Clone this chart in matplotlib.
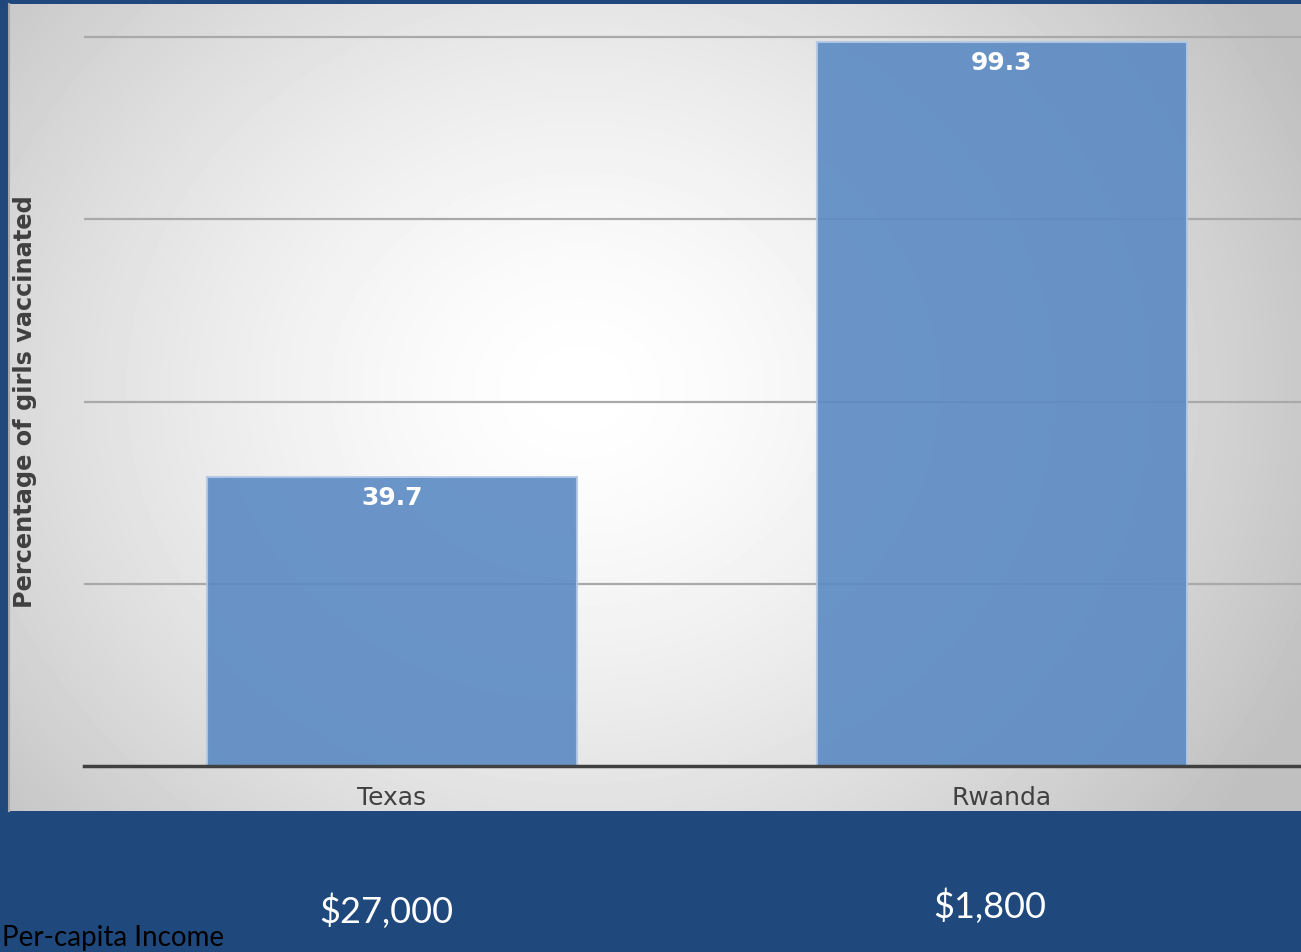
import numpy as np
import matplotlib.pyplot as plt
from matplotlib.colors import LinearSegmentedColormap

# vaccination share vs per-capita income
places = ['Texas', 'Rwanda']
pct_vaccinated = [39.7, 99.3]
income = ['$27,000', '$1,800']
grid_ticks = [25, 50, 75, 100]

W, H = 1301, 953
fig = plt.figure(figsize=(W / 100, H / 100), dpi=100)
fig.patch.set_facecolor('#1f487c')

# light panel with a soft radial gradient behind the chart
px0, py0, px1, py1 = 9, 5, 1301, 812
bg = fig.add_axes([px0 / W, 1 - py1 / H, (px1 - px0) / W, (py1 - py0) / H])
yy, xx = np.mgrid[py0:py1, px0:px1]
r = np.hypot((xx - 580) / 1.15, yy - 390)
shade = np.clip(1.0 - 0.26 * (r / 720) ** 1.5, 0.75, 1.0)
grey = LinearSegmentedColormap.from_list('g', ['#000000', '#ffffff'])
bg.imshow(shade, cmap=grey, vmin=0, vmax=1, aspect='auto', interpolation='bilinear')
bg.set_axis_off()
# thin darker rim on the panel's left edge
fig.add_artist(plt.Line2D([px0 / W, px0 / W], [1 - py1 / H, 1 - py0 / H],
                          color='#a8a8a8', lw=1.5))

# chart area: baseline at y=767, 100% at y=38
left, base, top = 84, 767, 5
unit = (767 - 38) / 100.0
ax = fig.add_axes([left / W, 1 - base / H, (1310 - left) / W, (base - top) / H])
ax.set_facecolor('none')
ax.set_ylim(0, (base - top) / unit)
ax.set_xlim(-0.505, 1.505)

for g in grid_ticks:
    ax.axhline(g, color='#a9a9a9', lw=1.6, zorder=1)

x = np.arange(len(places))
ax.bar(x, pct_vaccinated, width=0.607, color='#5b8ac3', alpha=0.9,
       edgecolor='#b3c8e6', linewidth=1.5, zorder=2)

for xi, v in zip(x, pct_vaccinated):
    ax.annotate(f'{v:.1f}', (xi, v), xytext=(0, -6), textcoords='offset points',
                ha='center', va='top', color='white', fontsize=18,
                fontweight='bold', zorder=3)

for s in ['left', 'right', 'top']:
    ax.spines[s].set_visible(False)
ax.spines['bottom'].set_color('#404040')
ax.spines['bottom'].set_linewidth(2.5)
ax.spines['bottom'].set_zorder(4)
ax.set_yticks([])
ax.set_xticks(x)
ax.set_xticklabels(places, fontsize=18, color='#404040')
ax.tick_params(axis='x', length=0, pad=14)

fig.text(25 / W, 1 - 402 / H, 'Percentage of girls vaccinated', rotation=90,
         ha='center', va='center', fontsize=17.3, fontweight='bold', color='#404040')

# income row under the panel
income_dx = [-4, -9]
income_dy = [-144 * 0.72, -139 * 0.72]
for xi, lab, dx, dy in zip(x, income, income_dx, income_dy):
    ax.annotate(lab, (xi, 0), xycoords=('data', 'axes fraction'),
                xytext=(dx, dy), textcoords='offset points',
                ha='center', va='center', color='white', fontsize=26,
                family='Lato')

fig.text(2 / W, 1 - 938 / H, 'Per-capita Income', ha='left', va='center',
         fontsize=20, color='black', family='Lato')

fig.savefig('out.png', dpi=100, facecolor=fig.get_facecolor())
